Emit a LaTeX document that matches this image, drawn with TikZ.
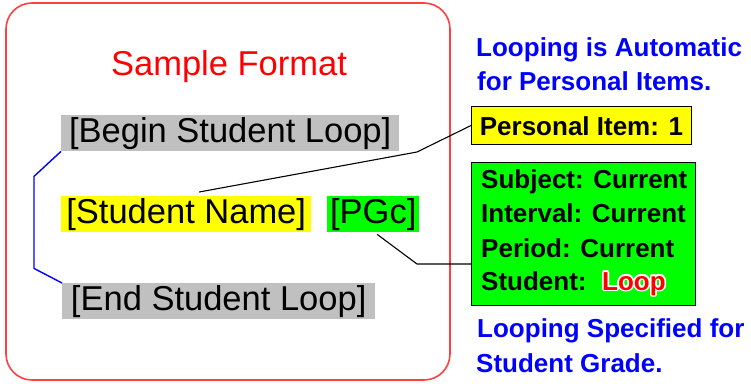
\documentclass[tikz,border=0pt]{standalone}
\usepackage{fontspec}
\setmainfont{Liberation Sans}
\usetikzlibrary{calc}
\definecolor{frameRed}{RGB}{255,64,64}
\definecolor{tagGray}{RGB}{192,192,192}
\definecolor{tagYellow}{RGB}{255,255,0}
\definecolor{tagGreen}{RGB}{0,255,0}
\definecolor{noteBlue}{RGB}{0,0,255}
\definecolor{loopRed}{RGB}{255,0,0}

\begin{document}
\begin{tikzpicture}[x=1pt,y=-1pt,
  tag/.style={inner sep=0pt, anchor=north west,
    font=\fontsize{34.5}{40}\selectfont, text height=27pt, text depth=9pt},
  card/.style={draw=black, line width=1pt, inner sep=0pt, anchor=north west,
    font=\fontsize{26}{30}\selectfont\bfseries},
  cardtext/.style={anchor=base west, inner sep=0pt,
    font=\fontsize{26}{30}\selectfont\bfseries},
  note/.style={anchor=base west, inner sep=0pt, text=noteBlue,
    font=\fontsize{26}{30}\selectfont\bfseries},
  leader/.style={draw=black, line width=1.1pt},
  bracket/.style={draw=noteBlue, line width=1.4pt}]
\useasboundingbox (0,0) rectangle (751,383);

% template frame
\draw[frameRed, line width=1.6pt, rounded corners=26pt] (6,3) rectangle (450,380);
\node[anchor=base, inner sep=0pt, text=loopRed,
  font=\fontsize{34.5}{40}\selectfont] (title) at (229,75) {Sample Format};

% template tags
\node[tag, fill=tagGray, minimum width=338pt] (begin) at (61,115) {[Begin Student Loop]};
\node[tag, fill=tagYellow, minimum width=250pt] (sname) at (61,196) {[Student Name]};
\node[tag, fill=tagGreen, minimum width=92pt] (pgc) at (327,196) {[PGc]};
\node[tag, fill=tagGray, minimum width=313pt] (end) at (62,283) {[End Student Loop]};

% loop bracket
\draw[bracket] (begin.south west) -- ++(-27,25) -- ++(0,92) -- (end.north west);

% notes and option cards
\node[note] (auto1) at (476,56) {Looping is Automatic};
\node[note] (auto2) at (477,90) {for Personal Items.};

\node[card, fill=tagYellow, minimum width=220pt, text height=29pt, text depth=9pt]
  (personal) at (471,106) {Personal Item: 1};

\node[card, fill=tagGreen, minimum width=224pt, minimum height=143pt] (grade) at (471,162) {};
\node[cardtext] (subj) at (481,188) {Subject: Current};
\node[cardtext] (intv) at (481,222) {Interval: Current};
\node[cardtext] (perd) at (481,257) {Period: Current};
\node[cardtext] (stud) at (481,290) {Student:};
% red word with a white outline: white copies set around it
\coordinate (loopbase) at (602,290);
\foreach \a in {0,30,...,330}
  \node[cardtext, text=white] (halo\a) at ($(loopbase)+(\a:1.6)$) {Loop};
\node[cardtext, text=loopRed] (loopword) at (loopbase) {Loop};

\node[note] (spec1) at (477,337) {Looping Specified for};
\node[note] (spec2) at (476,372) {Student Grade.};

% leaders from tags to cards
\coordinate (bend1) at (417,152);
\draw[leader] ([xshift=13pt,yshift=4pt]sname.north) -- (bend1) -- (personal.west);
\coordinate (bend2) at (417,264);
\draw[leader] ([xshift=4pt,yshift=-2pt]pgc.south) -- (bend2) -- (bend2 -| grade.west);
\end{tikzpicture}
\end{document}
